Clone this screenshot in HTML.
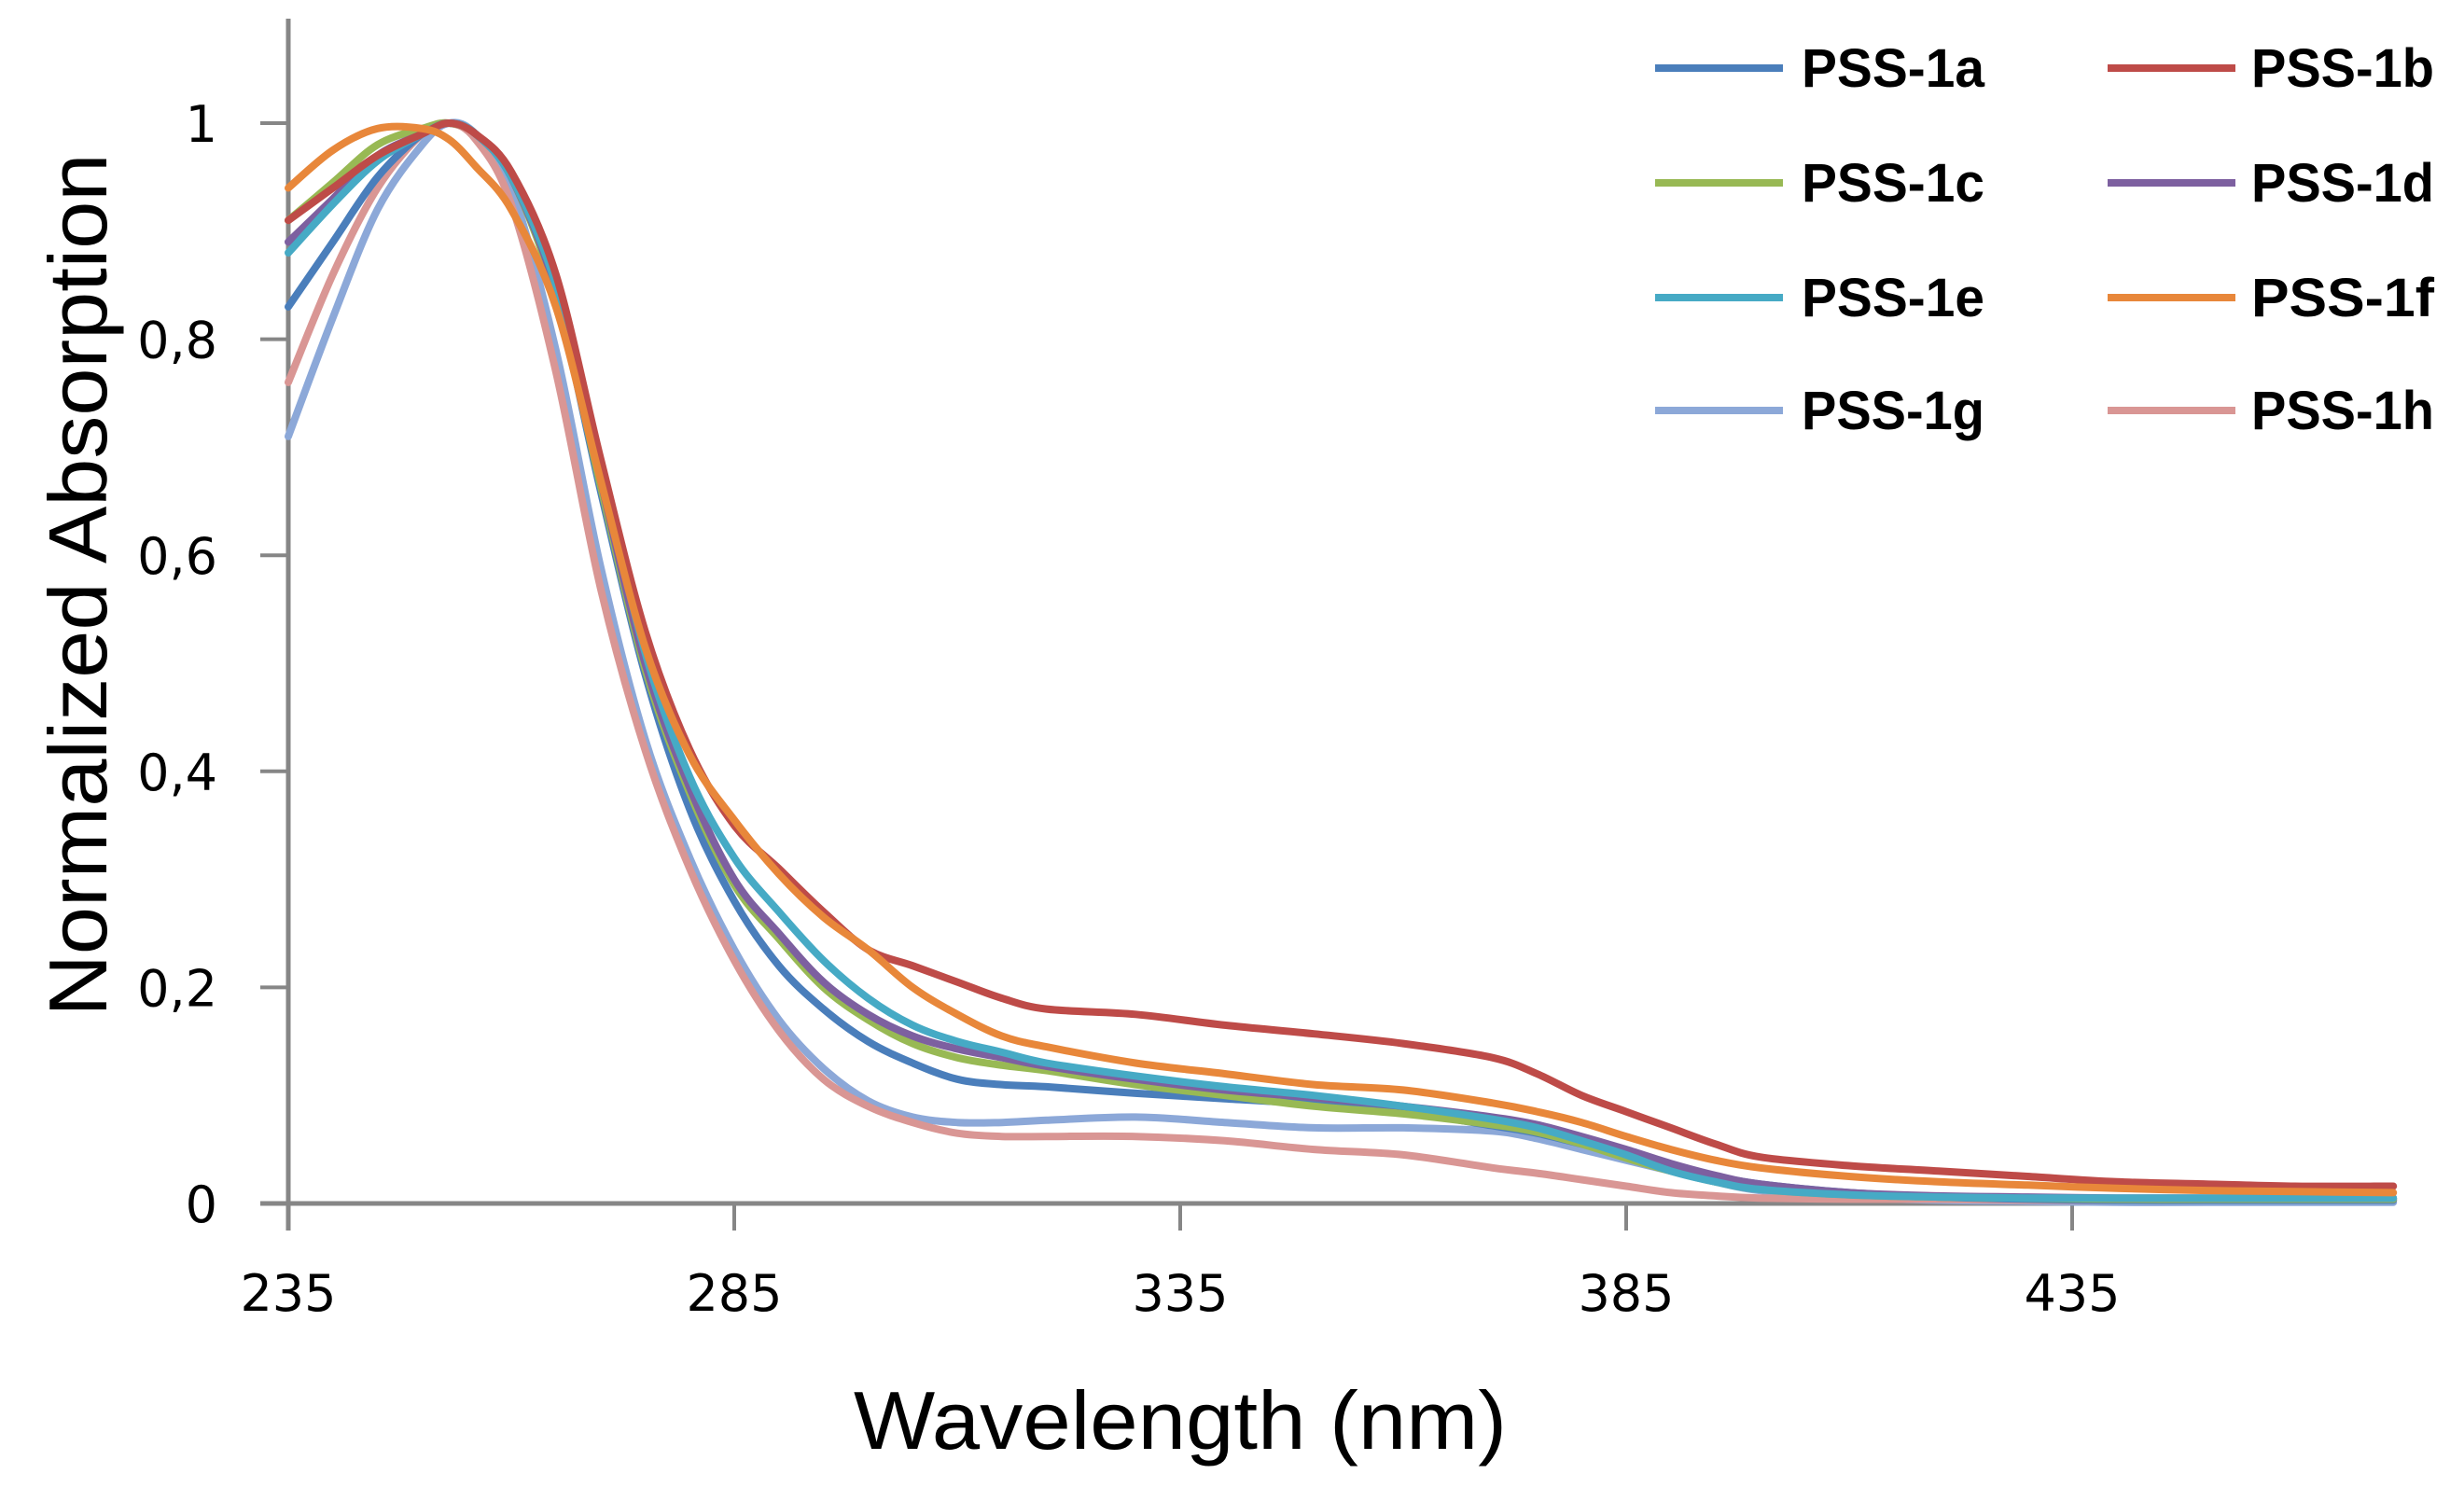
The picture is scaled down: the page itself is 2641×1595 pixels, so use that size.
<!DOCTYPE html>
<html><head><meta charset="utf-8"><style>
html,body{margin:0;padding:0;background:#fff;}
svg{display:block;}
</style></head><body>
<svg id="chart" width="2641" height="1595" viewBox="0 0 2641 1595" xmlns="http://www.w3.org/2000/svg">
<g id="axes"></g>
<g id="series"></g>
<g id="legend"></g>
<text x="1265" y="1553" text-anchor="middle" font-family="Liberation Sans, sans-serif" font-size="88" textLength="700" lengthAdjust="spacingAndGlyphs" fill="#000">Wavelength (nm)</text>
<text transform="translate(114,627) rotate(-90)" text-anchor="middle" font-family="Liberation Sans, sans-serif" font-size="88" textLength="925" lengthAdjust="spacingAndGlyphs" fill="#000">Normalized Absorption</text>
</svg>
<script>
const wavelengths=[235,240,245,250,253,256,260,265,270,275,280,285,290,295,300,305,310,315,320,330,340,350,360,370,375,380,385,390,395,400,410,420,430,440,450,460,471];
const seriesNames=["PSS-1a","PSS-1b","PSS-1c","PSS-1d","PSS-1e","PSS-1f","PSS-1g","PSS-1h"];
const seriesColors=["#4a7ebb","#be4b48","#98b954","#7d60a0","#46aac5","#e8873a","#8ca8d8","#d99694"];
const pss1a=[.83,.89,.95,.99,1.0,.99,.95,.84,.66,.49,.365,.28,.22,.18,.15,.13,.115,.11,.108,.102,.097,.092,.085,.072,.065,.055,.045,.035,.025,.018,.01,.006,.004,.003,.003,.003,.003];
const pss1b=[.91,.94,.97,.99,1.0,.99,.955,.86,.69,.53,.42,.35,.31,.27,.235,.22,.205,.19,.18,.175,.165,.157,.148,.135,.12,.10,.085,.07,.055,.043,.035,.03,.025,.02,.018,.016,.016];
const pss1c=[.91,.945,.98,.995,1.0,.99,.95,.84,.665,.495,.38,.295,.245,.20,.17,.148,.135,.128,.123,.11,.10,.09,.083,.073,.066,.055,.042,.03,.02,.013,.008,.006,.005,.004,.004,.004,.004];
const pss1d=[.89,.93,.97,.99,1.0,.99,.95,.845,.67,.50,.385,.30,.25,.205,.175,.155,.143,.135,.127,.115,.105,.098,.09,.08,.073,.062,.05,.037,.026,.018,.01,.007,.006,.005,.005,.005,.005];
const pss1e=[.88,.925,.965,.99,1.0,.99,.95,.85,.68,.51,.395,.32,.27,.225,.19,.165,.15,.14,.13,.118,.108,.10,.09,.078,.07,.058,.045,.03,.02,.013,.008,.006,.005,.005,.005,.005,.005];
const pss1f=[.94,.975,.995,.995,.985,.96,.92,.83,.67,.515,.415,.355,.305,.265,.235,.20,.175,.155,.145,.13,.12,.11,.105,.093,.085,.075,.062,.05,.04,.033,.025,.02,.017,.014,.012,.011,.01];
const pss1g=[.71,.82,.92,.98,1.0,.99,.94,.79,.59,.43,.32,.235,.17,.125,.095,.08,.075,.075,.077,.08,.075,.07,.07,.067,.06,.05,.04,.03,.02,.012,.006,.003,.002,.001,.001,.001,.001];
const pss1h=[.76,.86,.94,.99,1.0,.985,.925,.77,.57,.42,.31,.225,.16,.115,.09,.075,.065,.062,.062,.062,.058,.05,.045,.033,.028,.022,.016,.01,.007,.005,.004,.004,.003,.003,.003,.003,.003];
const seriesValues=[pss1a,pss1b,pss1c,pss1d,pss1e,pss1f,pss1g,pss1h];
const yTickValues=[0,0.2,0.4,0.6,0.8,1];
const yTickLabels=["0","0,2","0,4","0,6","0,8","1"];
const xTickValues=[235,285,335,385,435];
const xTickLabels=["235","285","335","385","435"];

const NS="http://www.w3.org/2000/svg";
const X0=309, PXNM=9.56, Y0=1290, PXU=1158;
function xs(w){return X0+(w-235)*PXNM;}
function ys(v){return Y0-v*PXU;}
function mk(tag,attrs,parent){const e=document.createElementNS(NS,tag);for(const k in attrs)e.setAttribute(k,attrs[k]);parent.appendChild(e);return e;}

const axes=document.getElementById('axes');
const gray="#868686";
let yl=mk('line',{x1:X0,y1:20,x2:X0,y2:Y0+29,stroke:gray,'stroke-width':5},axes);


let xl=mk('line',{x1:X0-30,y1:Y0,x2:2562,y2:Y0,stroke:gray,'stroke-width':5},axes);


yTickValues.forEach((v,i)=>{
  const t=mk('line',{x1:X0-30,y1:ys(v),x2:X0,y2:ys(v),stroke:gray,'stroke-width':4},axes);
  
  
  const l=mk('text',{x:233,y:ys(v)+20,'text-anchor':'end','font-family':'DejaVu Sans, sans-serif','font-size':54,fill:'#000'},axes);
  l.textContent=yTickLabels[i];
  
  
});
xTickValues.forEach((w,i)=>{
  const t=mk('line',{x1:xs(w),y1:Y0,x2:xs(w),y2:Y0+29,stroke:gray,'stroke-width':4},axes);
  
  
  const l=mk('text',{x:xs(w),y:1405,'text-anchor':'middle','font-family':'DejaVu Sans, sans-serif','font-size':54,fill:'#000'},axes);
  l.textContent=xTickLabels[i];
  
  
});

function smoothPath(pts){
  let d="M"+pts[0][0].toFixed(1)+","+pts[0][1].toFixed(1);
  for(let i=0;i<pts.length-1;i++){
    const p0=pts[i-1]||pts[i],p1=pts[i],p2=pts[i+1],p3=pts[i+2]||p2;
    const c1x=p1[0]+(p2[0]-p0[0])/6,c1y=p1[1]+(p2[1]-p0[1])/6;
    const c2x=p2[0]-(p3[0]-p1[0])/6,c2y=p2[1]-(p3[1]-p1[1])/6;
    d+=" C"+c1x.toFixed(1)+","+c1y.toFixed(1)+" "+c2x.toFixed(1)+","+c2y.toFixed(1)+" "+p2[0].toFixed(1)+","+p2[1].toFixed(1);
  }
  return d;
}
const sg=document.getElementById('series');
const order=[6,7,0,2,3,4,1,5];
order.forEach(si=>{
  const pts=wavelengths.map((w,i)=>[xs(w),ys(seriesValues[si][i])]);
  const p=mk('path',{d:smoothPath(pts),fill:'none',stroke:seriesColors[si],'stroke-width':8,'stroke-linejoin':'round','stroke-linecap':'round'},sg);
  
  
});

const lg=document.getElementById('legend');
const rowsY=[73,196,319,440];
seriesNames.forEach((n,i)=>{
  const col=i%2,row=Math.floor(i/2);
  const lx=col?2259:1774, tx=col?2413:1931, y=rowsY[row];
  const ln=mk('line',{x1:lx,y1:y,x2:lx+137,y2:y,stroke:seriesColors[i],'stroke-width':8},lg);
  
  
  const t=mk('text',{x:tx,y:y+20,'font-family':'Liberation Sans, sans-serif','font-weight':'bold','font-size':58,textLength:196,lengthAdjust:'spacingAndGlyphs',fill:'#000'},lg);
  t.textContent=n;
  
  
});
</script>
</body></html>
